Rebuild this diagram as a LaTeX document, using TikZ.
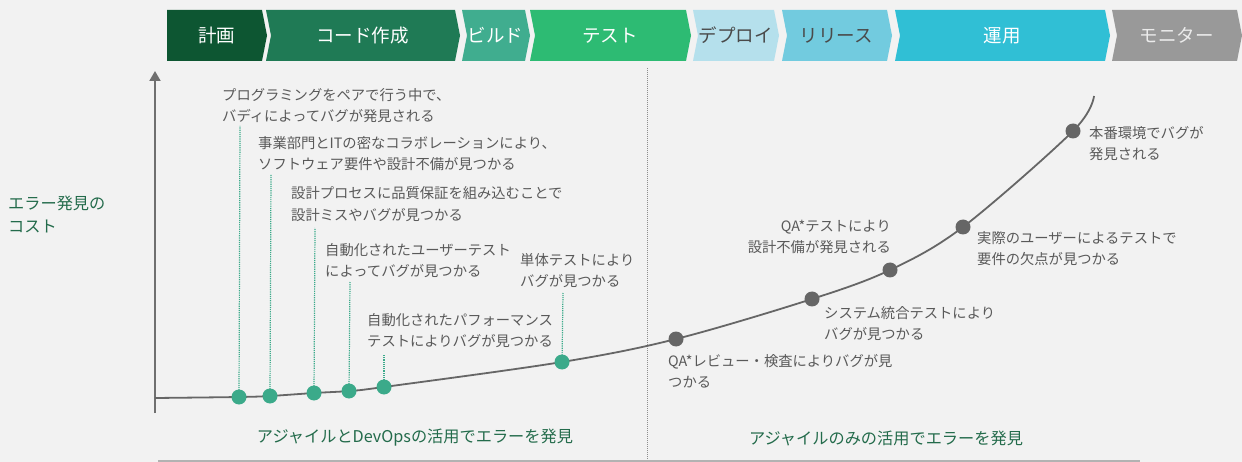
\documentclass[tikz,border=0pt]{standalone}
\usepackage{fontspec}
\setmainfont{Noto Sans CJK JP}
\usetikzlibrary{arrows.meta}
\definecolor{bgc}{HTML}{F2F2F2}
\definecolor{cA}{HTML}{0D5632}
\definecolor{cB}{HTML}{1F7A55}
\definecolor{cC}{HTML}{40AD8F}
\definecolor{cD}{HTML}{2DBB73}
\definecolor{cE}{HTML}{B5E0EC}
\definecolor{cF}{HTML}{72CBDF}
\definecolor{cG}{HTML}{30BFD5}
\definecolor{cH}{HTML}{999999}
\definecolor{txtgray}{HTML}{595959}
\definecolor{txtdark}{HTML}{4A4A4A}
\definecolor{dgreen}{HTML}{236B4B}
\definecolor{gdotc}{HTML}{3BAA8A}
\definecolor{kdotc}{HTML}{666666}
\definecolor{axisc}{HTML}{707070}
\newcommand\chevseg[7]{%
  \fill[#5] (#2,10) -- (#3,10) -- ({#3+5},35.5) -- (#3,61) -- (#2,61) -- ({#2+#4},35.5) -- cycle;
  \node[chevtext, text=#6] (#1) at ({(#2+#3)/2+2},35.5) {#7};}
\begin{document}
\begin{tikzpicture}[x=1pt,y=-1pt,
  chevtext/.style={font=\fontsize{18.5}{20}\selectfont, inner sep=0},
  lbl/.style={font=\fontsize{14.3}{21.5}\selectfont, text=txtgray, align=left, anchor=west, inner sep=0},
  lblr/.style={lbl, align=right, anchor=east},
  gdot/.style={circle, fill=gdotc, minimum size=15pt, inner sep=0},
  kdot/.style={circle, fill=kdotc, minimum size=15pt, inner sep=0},
  leader/.style={gdotc, densely dotted, line width=1.2pt},
  curvel/.style={kdotc, line width=1.8pt},
  phase/.style={font=\fontsize{16.2}{23}\selectfont, text=dgreen, inner sep=0}]
\fill[bgc] (0,0) rectangle (1242,462);
\useasboundingbox (0,0) rectangle (1242,462);
% chevron bar
\chevseg{s1}{167}{262}{0}{cA}{white}{計画}
\chevseg{s2}{266}{455}{5}{cB}{white}{コード作成}
\chevseg{s3}{462}{525}{5}{cC}{white}{ビルド}
\chevseg{s4}{530}{686}{5}{cD}{white}{テスト}
\chevseg{s5}{693}{774}{5}{cE}{txtdark}{デプロイ}
\chevseg{s6}{782}{887}{5}{cF}{txtdark}{リリース}
\chevseg{s7}{895}{1105}{5}{cG}{white}{運用}
\chevseg{s8}{1112}{1237}{5}{cH}{white!92!black}{モニター}
% axis
\coordinate (ax0) at (155,413);
\coordinate (ax1) at (155,71);
\draw[axisc, line width=2pt, -{Triangle[width=11pt,length=10pt]}] (ax0) -- (ax1);
\node[phase, align=left, anchor=west] (ylab) at (8,214.5) {エラー発見の\\コスト};
% divider and bottom line
\coordinate (dv0) at (647,68);
\coordinate (dv1) at (647,462);
\draw[axisc!80, densely dotted, line width=1pt] (dv0) -- (dv1);
\coordinate (bl0) at (158,461);
\coordinate (bl1) at (1140,461);
\draw[black!30, line width=1.5pt] (bl0) -- (bl1);
% curve points
\coordinate (c0) at (155,398);
\coordinate (p1) at (239,397);
\coordinate (p2) at (270,396);
\coordinate (p3) at (314,393);
\coordinate (p4) at (349,391);
\coordinate (p5) at (384,387);
\coordinate (p6) at (562,362);
\coordinate (q1) at (676,339);
\coordinate (q2) at (812,299);
\coordinate (q3) at (890,270);
\coordinate (q4) at (963,227);
\coordinate (q5) at (1073,131);
\coordinate (c1) at (1094,96);
\draw[curvel] plot[smooth, tension=0.55] coordinates {(c0) (p1) (p2) (p3) (p4) (p5) (p6) (q1) (q2) (q3) (q4) (q5) (c1)};
% leader targets
\coordinate (t1) at (240,126);
\coordinate (t2) at (271,174);
\coordinate (t3) at (315,228);
\coordinate (t4) at (350,282);
\coordinate (t5) at (384,354);
\coordinate (t6) at (563,293);
\draw[leader] (p1) -- (t1);
\draw[leader] (p2) -- (t2);
\draw[leader] (p3) -- (t3);
\draw[leader] (p4) -- (t4);
\draw[leader] (p5) -- (t5);
\draw[leader] (p6) -- (t6);
% dots
\node[gdot] (d1) at (p1) {};
\node[gdot] (d2) at (p2) {};
\node[gdot] (d3) at (p3) {};
\node[gdot] (d4) at (p4) {};
\node[gdot] (d5) at (p5) {};
\node[gdot] (d6) at (p6) {};
\node[kdot] (e1) at (q1) {};
\node[kdot] (e2) at (q2) {};
\node[kdot] (e3) at (q3) {};
\node[kdot] (e4) at (q4) {};
\node[kdot] (e5) at (q5) {};
% labels
\node[lbl] (l1) at (222,105.5) {プログラミングをペアで行う中で、\\バディによってバグが発見される};
\node[lbl] (l2) at (258,153.5) {事業部門とITの密なコラボレーションにより、\\ソフトウェア要件や設計不備が見つかる};
\node[lbl] (l3) at (291,204) {設計プロセスに品質保証を組み込むことで\\設計ミスやバグが見つかる};
\node[lbl] (l4) at (325,260.5) {自動化されたユーザーテスト\\によってバグが見つかる};
\node[lbl] (l5) at (367,330.5) {自動化されたパフォーマンス\\テストによりバグが見つかる};
\node[lbl] (l6) at (520,270.5) {単体テストにより\\バグが見つかる};
\node[lbl] (l7) at (668,371.5) {QA*レビュー・検査によりバグが見\\つかる};
\node[lblr] (l8) at (891,237) {QA*テストにより\\設計不備が発見される};
\node[lbl] (l9) at (824,323.5) {システム統合テストにより\\バグが見つかる};
\node[lbl] (l10) at (977,248.5) {実際のユーザーによるテストで\\要件の欠点が見つかる};
\node[lbl] (l11) at (1089,143.5) {本番環境でバグが\\発見される};
% phase labels
\node[phase] (ph1) at (415,438) {アジャイルとDevOpsの活用でエラーを発見};
\node[phase] (ph2) at (886,438) {アジャイルのみの活用でエラーを発見};
\end{tikzpicture}
\end{document}
